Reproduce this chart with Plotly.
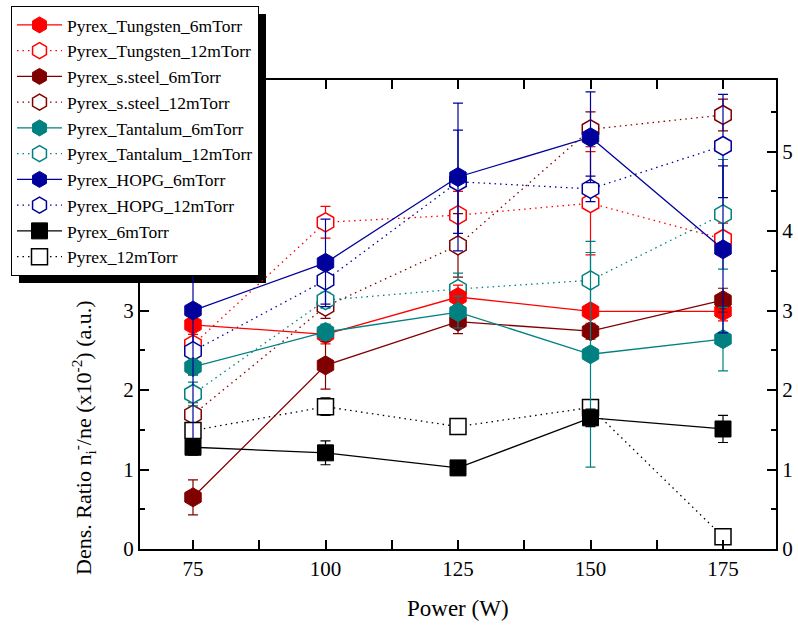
import plotly.graph_objects as go

power = [75, 100, 125, 150, 175]

tungsten_6 = [2.82, 2.70, 3.17, 2.99, 2.99]
tungsten_6_err = [0.12, 0.12, 0.15, 0.08, 0.12]
tungsten_12 = [2.57, 4.11, 4.20, 4.35, 3.90]
tungsten_12_err = [0.20, 0.20, 0.30, 0.65, 0.20]
ssteel_6 = [0.65, 2.31, 2.86, 2.74, 3.13]
ssteel_6_err = [0.22, 0.30, 0.15, 0.10, 0.15]
ssteel_12 = [1.69, 3.05, 3.82, 5.28, 5.46]
ssteel_12_err = [0.15, 0.15, 0.40, 0.22, 0.20]
tantalum_6 = [2.29, 2.73, 2.98, 2.45, 2.64]
tantalum_6_err = [0.10, 0.10, 0.20, 1.42, 0.40]
tantalum_12 = [1.95, 3.13, 3.27, 3.38, 4.21]
tantalum_12_err = [0.15, 0.10, 0.20, 0.35, 0.69]
hopg_6 = [3.00, 3.60, 4.68, 5.18, 3.77]
hopg_6_err = [1.70, 0.55, 0.93, 0.57, 1.05]
hopg_12 = [2.49, 3.38, 4.62, 4.53, 5.07]
hopg_12_err = [0.30, 0.30, 0.65, 0.16, 0.65]
pyrex_6 = [1.28, 1.21, 1.02, 1.65, 1.51]
pyrex_6_err = [0.10, 0.15, 0.05, 0.11, 0.17]
pyrex_12 = [1.49, 1.79, 1.54, 1.78, 0.155]
pyrex_12_err = [0.10, 0.11, 0.05, 0.10, 0.05]

RED = "#FF0000"
DRED = "#800000"
TEAL = "#008080"
NAVY = "#00009C"
BLACK = "#000000"

series_12 = [
    ("Pyrex_Tungsten_12mTorr", tungsten_12, tungsten_12_err, RED, "hexagon", 2),
    ("Pyrex_s.steel_12mTorr", ssteel_12, ssteel_12_err, DRED, "hexagon", 4),
    ("Pyrex_Tantalum_12mTorr", tantalum_12, tantalum_12_err, TEAL, "hexagon", 6),
    ("Pyrex_HOPG_12mTorr", hopg_12, hopg_12_err, NAVY, "hexagon", 8),
    ("Pyrex_12mTorr", pyrex_12, pyrex_12_err, BLACK, "square", 10),
]
series_6 = [
    ("Pyrex_Tungsten_6mTorr", tungsten_6, tungsten_6_err, RED, "hexagon", 1),
    ("Pyrex_s.steel_6mTorr", ssteel_6, ssteel_6_err, DRED, "hexagon", 3),
    ("Pyrex_Tantalum_6mTorr", tantalum_6, tantalum_6_err, TEAL, "hexagon", 5),
    ("Pyrex_HOPG_6mTorr", hopg_6, hopg_6_err, NAVY, "hexagon", 7),
    ("Pyrex_6mTorr", pyrex_6, pyrex_6_err, BLACK, "square", 9),
]

FONT = "Liberation Serif, Times New Roman, Times, serif"
DOT = "1.5px,4px"

fig = go.Figure()

for name, y, err, col, sym, rank in series_12:
    fig.add_trace(go.Scatter(
        x=power, y=y, name=name, mode="lines+markers", legendrank=rank,
        line=dict(color=col, width=1.3, dash=DOT),
        marker=dict(symbol=sym, size=19 if sym == "hexagon" else 16,
                    color="white", line=dict(color=col, width=1.5)),
        error_y=dict(type="data", array=err, visible=True, color=col,
                     thickness=1.2, width=5),
    ))

for name, y, err, col, sym, rank in series_6:
    fig.add_trace(go.Scatter(
        x=power, y=y, name=name, mode="lines+markers", legendrank=rank,
        line=dict(color=col, width=1.3),
        marker=dict(symbol=sym, size=19 if sym == "hexagon" else 16,
                    color=col, line=dict(color=col, width=1)),
        error_y=dict(type="data", array=err, visible=True, color=col,
                     thickness=1.2, width=5),
    ))

fig.add_trace(go.Scatter(x=[power[0]], y=[0], yaxis="y2", mode="markers",
                         marker=dict(opacity=0), showlegend=False,
                         hoverinfo="skip"))

L, R, T, B = 140, 22, 80, 81
W, H = 798, 630
pw, ph = W - L - R, H - T - B


def px_x(x):
    return (x - L) / pw


def px_y(y):
    return (H - B - y) / ph


tickfont = dict(family=FONT, size=21, color="black")
common_y = dict(
    range=[0, 5.9], tickvals=[0, 1, 2, 3, 4, 5],
    ticks="inside", ticklen=9, tickwidth=2, tickcolor="black",
    minor=dict(ticks="inside", ticklen=5, tickwidth=1.5, dtick=0.5,
               tickcolor="black"),
    showline=True, linecolor="black", linewidth=2,
    showgrid=False, zeroline=False, tickfont=tickfont, automargin=False,
)

fig.update_layout(
    width=W, height=H,
    margin=dict(l=L, r=R, t=T, b=B, autoexpand=False),
    paper_bgcolor="white", plot_bgcolor="white",
    font=dict(family=FONT, size=20, color="black"),
    showlegend=True,
    legend=dict(
        x=px_x(11), y=px_y(6), xanchor="left", yanchor="top",
        bgcolor="white", bordercolor="black", borderwidth=1,
        font=dict(family=FONT, size=17.5, color="black"),
        itemwidth=45, tracegroupgap=0,
    ),
    xaxis=dict(
        range=[65, 185], tickvals=power, ticktext=[str(p) for p in power],
        ticks="inside", ticklen=9, tickwidth=2, tickcolor="black",
        minor=dict(ticks="inside", ticklen=5, tickwidth=1.5, dtick=12.5,
                   tick0=62.5, tickcolor="black"),
        showline=True, linecolor="black", linewidth=2, mirror="allticks",
        showgrid=False, zeroline=False, automargin=False,
        tickfont=tickfont,
    ),
    yaxis=dict(common_y, mirror=False),
    yaxis2=dict(common_y, overlaying="y", side="right"),
    shapes=[dict(type="rect", xref="paper", yref="paper",
                 x0=px_x(19), x1=px_x(266), y0=px_y(283), y1=px_y(14),
                 fillcolor="black", line=dict(width=0), layer="below")],
    annotations=[
        dict(text="Dens. Ratio n<sub>i</sub><sup>-</sup>/ne (x10<sup>-2</sup>) (a.u.)",
             xref="paper", yref="paper", x=px_x(83), y=px_y(438),
             textangle=-90, showarrow=False,
             font=dict(size=22, family=FONT, color="black"),
             xanchor="center", yanchor="middle"),
        dict(text="Power (W)", xref="paper", yref="paper",
             x=0.5, y=px_y(608), showarrow=False,
             font=dict(size=23, family=FONT, color="black"),
             xanchor="center", yanchor="middle"),
    ],
)

fig.write_html(
    "out.html",
    config={"displayModeBar": False},
    post_script="document.body.style.margin='0';document.body.style.padding='0';",
)
